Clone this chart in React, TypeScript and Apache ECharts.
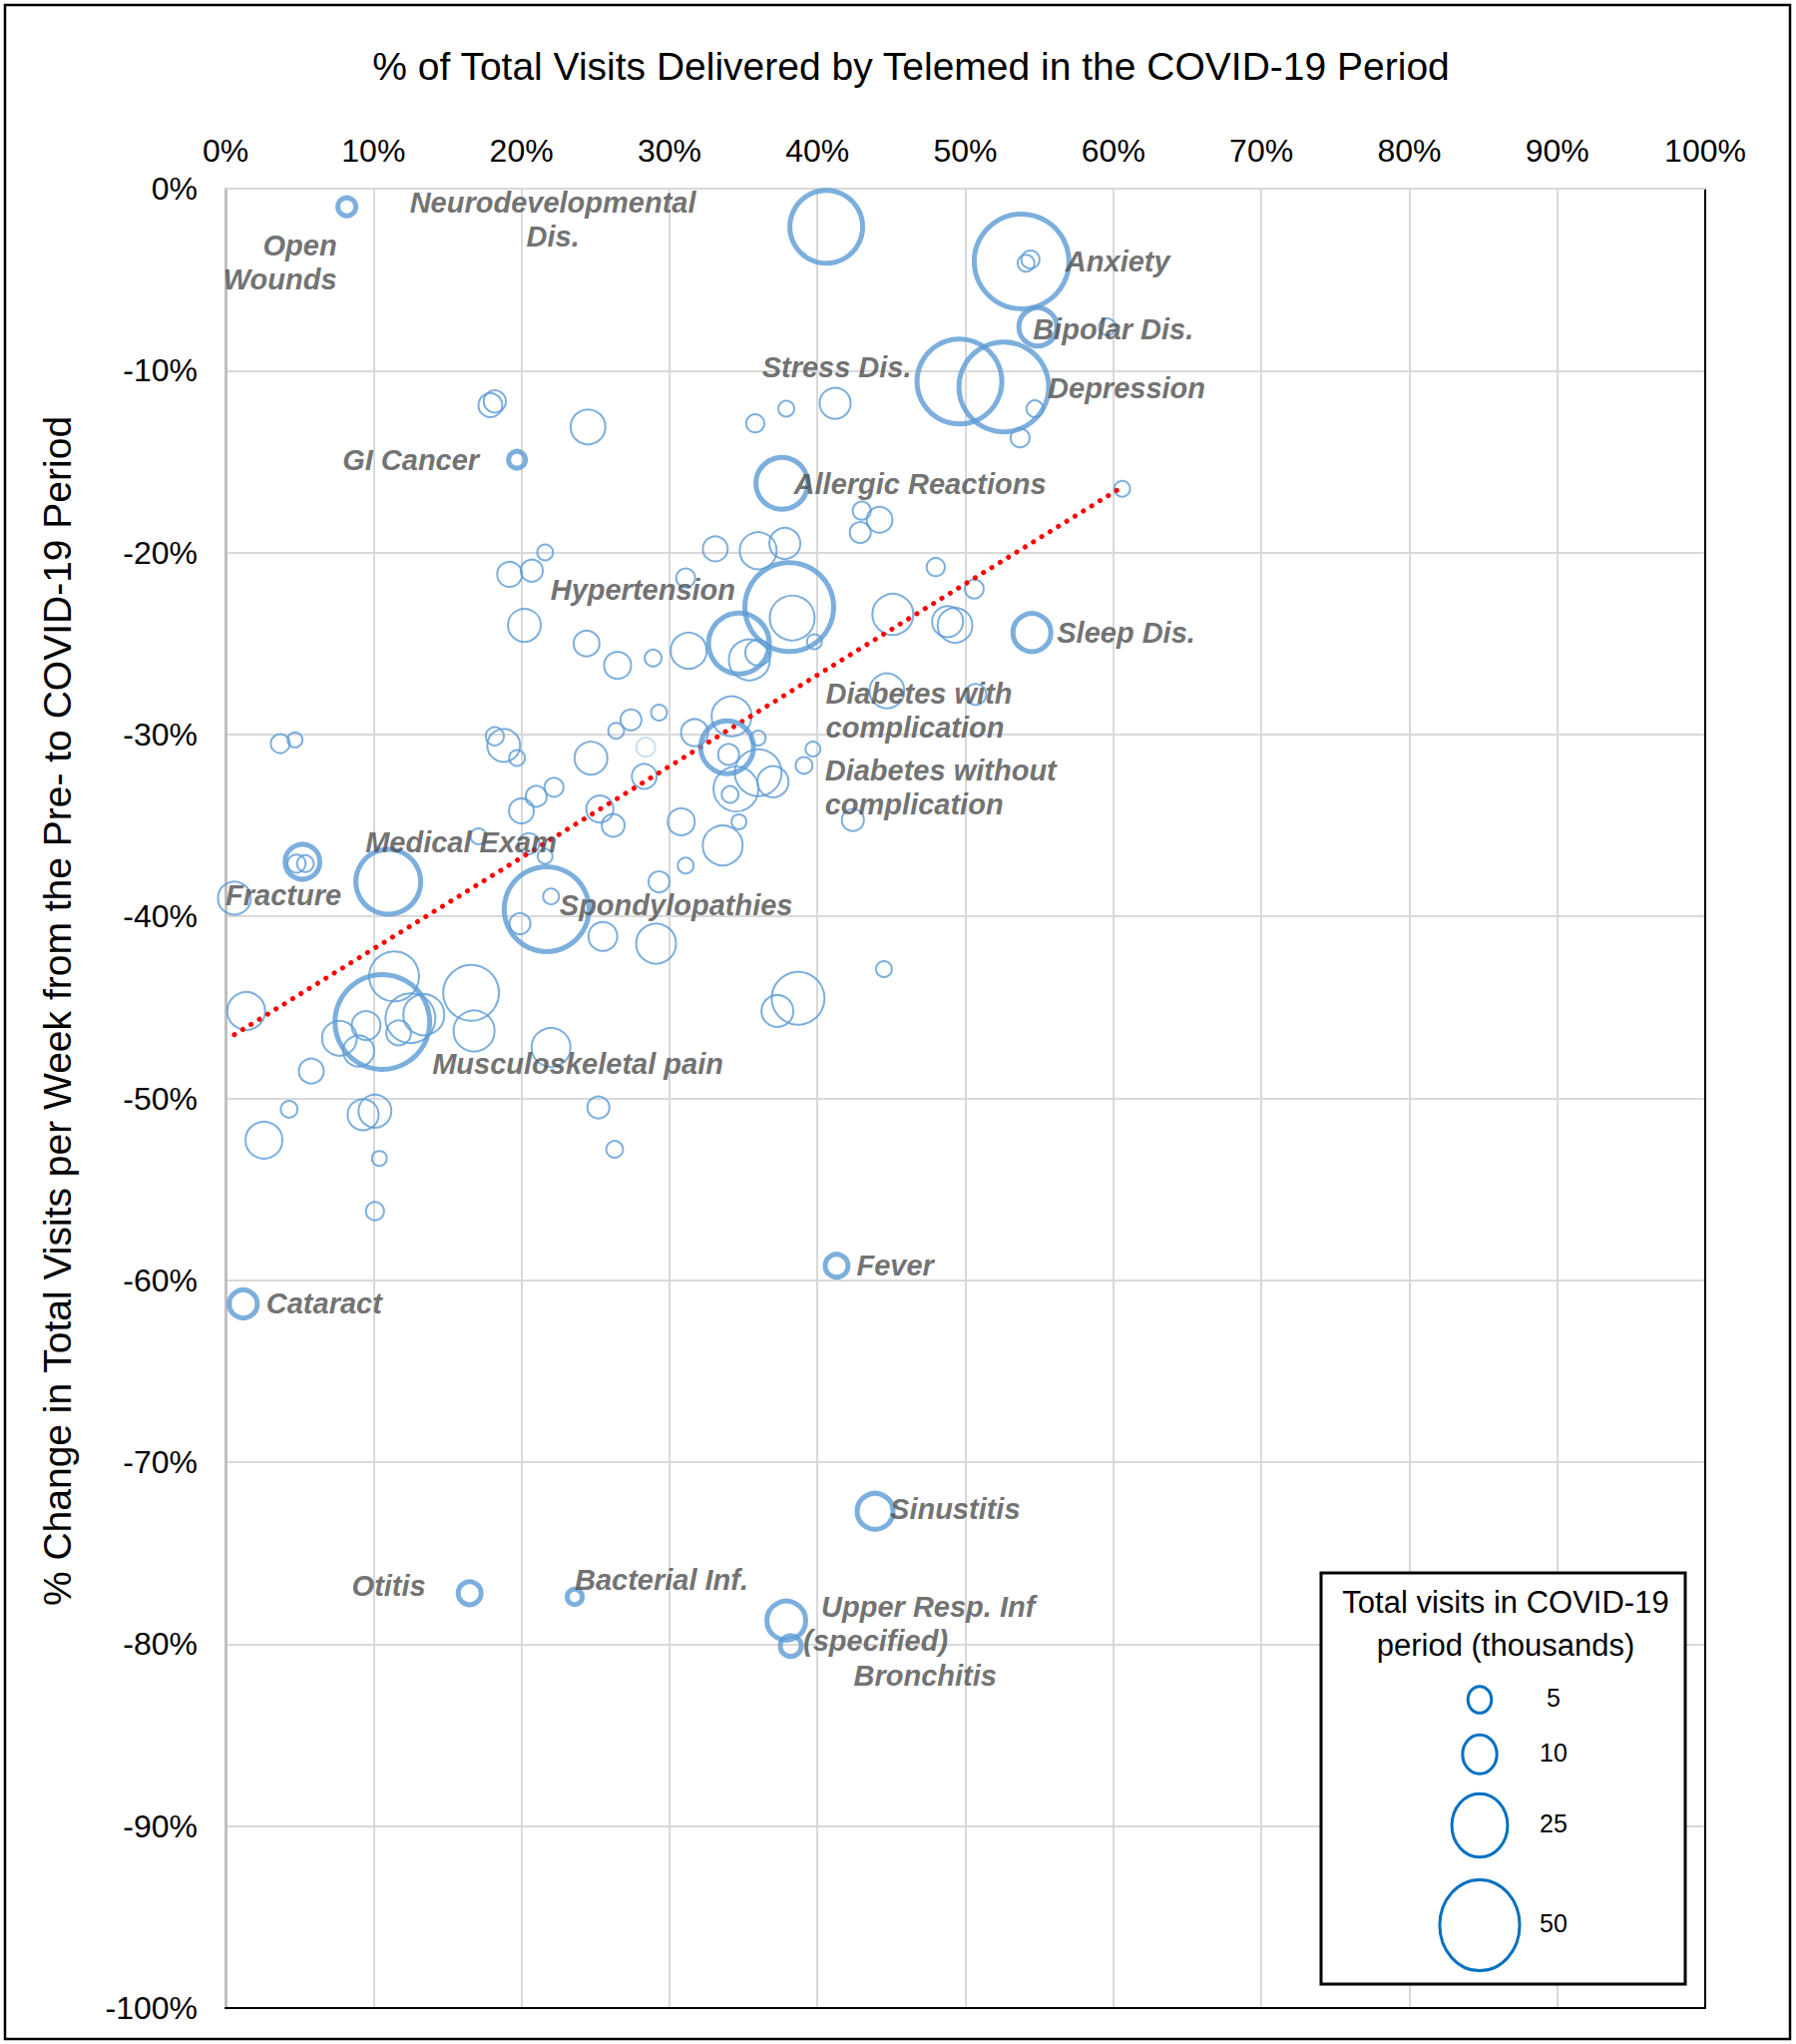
import React, { useEffect, useRef } from "react";
import * as echarts from "echarts";

// ---------- DATA ----------
// Unlabeled conditions: % of visits by telemed, % change in weekly visits, total visits (thousands)
const OTHER_X = [3.7, 4.7, 18.2, 18.8, 19.7, 24.7, 26.4, 27.4, 29.3, 31.7, 28.3, 21.0, 22.2, 20.0, 25.3, 26.2, 30.8, 17.1, 20.5, 21.6, 31.1, 29.3, 4.8, 5.4, 0.6, 22.0, 19.9, 25.5, 29.1, 1.4, 11.4, 9.5, 7.7, 9.0, 12.5, 13.4, 11.7, 16.6, 16.8, 22.0, 5.8, 4.3, 2.6, 9.3, 10.1, 10.4, 10.1, 25.2, 26.3, 43.0, 44.2, 42.9, 33.1, 36.0, 37.8, 31.1, 38.3, 39.8, 35.4, 36.0, 31.3, 28.9, 26.5, 48.0, 50.6, 45.1, 48.8, 49.3, 44.7, 50.7, 34.2, 34.0, 36.0, 39.7, 39.1, 36.0, 37.0, 34.5, 34.1, 42.4, 34.7, 33.6, 44.5, 38.7, 37.3, 54.4, 54.1, 59.6, 54.7, 53.7, 41.2, 37.9, 35.8, 60.6, 17.9, 18.2, 24.5, 21.6, 20.7, 19.2, 20.2, 24.4];
const OTHER_Y = [-30.5, -30.3, -30.1, -30.6, -31.3, -31.3, -29.8, -29.2, -28.8, -29.9, -32.3, -33.4, -32.9, -34.2, -34.1, -35.0, -34.8, -35.6, -36.0, -36.7, -37.2, -38.1, -37.1, -37.1, -39.0, -38.9, -40.4, -41.1, -41.5, -45.2, -43.3, -46.0, -46.7, -47.4, -45.6, -45.4, -46.4, -44.2, -46.3, -47.2, -48.5, -50.6, -52.3, -50.9, -50.7, -53.3, -56.2, -50.5, -52.8, -17.7, -18.2, -18.9, -19.8, -19.9, -19.5, -21.4, -23.6, -24.9, -25.9, -25.5, -25.4, -25.8, -26.2, -20.8, -22.0, -23.4, -23.8, -24.0, -27.6, -27.8, -29.0, -31.1, -30.2, -30.8, -31.7, -32.1, -32.6, -33.0, -33.3, -34.7, -34.8, -36.1, -42.9, -44.5, -45.2, -3.9, -4.1, -7.6, -12.1, -13.7, -11.8, -12.1, -12.9, -16.5, -11.9, -11.7, -13.1, -20.0, -21.0, -21.2, -24.0, -25.0];
const OTHER_V = [2.5, 1.6, 2.3, 6.9, 1.8, 6.9, 1.8, 3.0, 1.8, 4.8, 4.1, 3.0, 2.5, 4.1, 4.8, 3.5, 4.8, 1.8, 3.0, 1.6, 1.8, 3.0, 2.3, 2.0, 6.9, 1.8, 3.0, 5.4, 10.0, 9.0, 15.3, 5.4, 7.7, 6.2, 15.3, 10.5, 4.1, 19.0, 10.5, 9.5, 4.1, 2.0, 8.6, 6.2, 6.9, 1.6, 2.3, 3.3, 2.0, 2.3, 4.4, 3.0, 4.1, 8.6, 6.2, 2.5, 12.5, 1.6, 10.5, 4.4, 8.2, 2.0, 4.8, 2.3, 2.5, 10.5, 6.2, 7.7, 7.7, 3.0, 10.0, 3.0, 1.6, 1.6, 2.0, 13.6, 6.2, 12.5, 2.0, 3.3, 1.6, 10.0, 1.8, 17.1, 6.5, 2.3, 2.0, 2.0, 2.0, 2.5, 6.2, 1.8, 2.3, 1.8, 3.8, 3.3, 7.7, 1.8, 3.3, 4.1, 6.9, 4.4];

// One faded bubble
const FAINT_X = [28.4];
const FAINT_Y = [-30.7];
const FAINT_V = [2.5];

// Labeled conditions
const LABELED_NAMES = ["Neurodevelopmental Dis.", "Open Wounds", "Anxiety", "Bipolar Dis.", "Stress Dis.", "Depression", "GI Cancer", "Allergic Reactions", "Hypertension", "Sleep Dis.", "Diabetes with complication", "Diabetes without complication", "Medical Exam", "Fracture", "Spondylopathies", "Musculoskeletal pain", "Fever", "Cataract", "Sinustitis", "Otitis", "Bacterial Inf.", "Upper Resp. Inf (specified)", "Bronchitis"];
const LABELED_X = [40.6, 8.2, 53.8, 54.9, 49.6, 52.6, 19.7, 37.6, 38.1, 54.5, 34.7, 33.9, 11.0, 5.2, 21.7, 10.6, 41.3, 1.2, 43.9, 16.5, 23.6, 37.9, 38.2];
const LABELED_Y = [-2.1, -1.0, -4.0, -7.6, -10.6, -10.9, -14.9, -16.2, -23.0, -24.4, -25.0, -30.7, -38.1, -37.0, -39.6, -45.8, -59.2, -61.3, -72.7, -77.2, -77.4, -78.7, -80.1];
const LABELED_V = [34.4, 3.0, 56.5, 10.5, 45.8, 51.0, 2.7, 18.4, 50.0, 10.5, 24.6, 19.0, 27.7, 9.0, 45.8, 56.5, 4.4, 6.2, 9.5, 4.4, 2.3, 10.9, 3.8];

// Linear trend line end points
const TREND_X = [0.6, 60.6];
const TREND_Y = [-46.5, -16.4];

// Bubble size legend (thousands)
const LEGEND_SIZES = [5, 10, 25, 50];

// ---------- STYLE / LAYOUT ----------
const FONT = "'Liberation Sans', Arial, Helvetica, sans-serif";
const BUBBLE_BLUE = "#5B9BD5";
const SIZE_K = 13.3; // px of outer diameter per sqrt(thousand visits)
const outerDiameter = (v: number) => SIZE_K * Math.sqrt(v);

const LABEL_LAYOUT: Record<string, { align: string; dx: number; dy: number; text?: string }> = {
  "Neurodevelopmental Dis.": { align: "center", dx: -274, dy: -7, text: "Neurodevelopmental\nDis." },
  "Open Wounds": { align: "right", dx: -10, dy: 56, text: "Open\nWounds" },
  Anxiety: { align: "left", dx: 44, dy: 0 },
  "Bipolar Dis.": { align: "left", dx: -5, dy: 2 },
  "Stress Dis.": { align: "right", dx: -48, dy: -14 },
  Depression: { align: "left", dx: 44, dy: 1 },
  "GI Cancer": { align: "right", dx: -38, dy: 0 },
  "Allergic Reactions": { align: "left", dx: 12, dy: 1 },
  Hypertension: { align: "right", dx: -54, dy: -17 },
  "Sleep Dis.": { align: "left", dx: 25, dy: 0 },
  "Diabetes with complication": { align: "left", dx: 87, dy: 67, text: "Diabetes with\ncomplication" },
  "Diabetes without complication": { align: "left", dx: 98, dy: 40, text: "Diabetes without\ncomplication" },
  "Medical Exam": { align: "left", dx: -23, dy: -40 },
  Fracture: { align: "left", dx: -77, dy: 33 },
  Spondylopathies: { align: "left", dx: 13, dy: -4 },
  "Musculoskeletal pain": { align: "left", dx: 50, dy: 42 },
  Fever: { align: "left", dx: 20, dy: 0 },
  Cataract: { align: "left", dx: 23, dy: 0 },
  Sinustitis: { align: "left", dx: 15, dy: -2 },
  Otitis: { align: "right", dx: -44, dy: -7 },
  "Bacterial Inf.": { align: "left", dx: 0, dy: -17 },
  "Upper Resp. Inf (specified)": { align: "left", dx: 17, dy: 3, text: "{a|Upper Resp. Inf}\n{b|(specified)}" },
  Bronchitis: { align: "left", dx: 63, dy: 30 },
};

const LEGEND_LAYOUT = { cx: 1483, textX: 1557, rows: [1703, 1757.7, 1829, 1929], squeeze: 0.88 };

export default function App() {
  const ref = useRef<HTMLDivElement>(null);

  useEffect(() => {
    document.body.style.margin = "0";
    if (!ref.current) return;
    const chart = echarts.init(ref.current, undefined, { renderer: "svg" });

    const otherData = OTHER_X.map((x, i) => [x, OTHER_Y[i], OTHER_V[i]]);
    const faintData = FAINT_X.map((x, i) => [x, FAINT_Y[i], FAINT_V[i]]);
    const labelFont = {
      fontFamily: FONT,
      fontWeight: "bold" as const,
      fontStyle: "italic" as const,
      fontSize: 29,
      color: "#4D4D4D",
      lineHeight: 34,
    };
    const labeledData = LABELED_NAMES.map((name, i) => {
      const l = LABEL_LAYOUT[name];
      return {
        name,
        value: [LABELED_X[i], LABELED_Y[i], LABELED_V[i]],
        label: {
          align: l.align,
          offset: [l.dx, l.dy],
          formatter: l.text ?? name,
        },
      };
    });

    const legendGraphics: any[] = [
      {
        type: "rect",
        z: 100,
        shape: { x: 1324, y: 1576, width: 365, height: 412 },
        style: { fill: "#fff", stroke: "#000", lineWidth: 3 },
      },
      {
        type: "text",
        z: 101,
        x: 1509,
        y: 1605,
        style: { text: "Total visits in COVID-19", fontFamily: FONT, fontSize: 31, fill: "#000", align: "center", verticalAlign: "middle" },
      },
      {
        type: "text",
        z: 101,
        x: 1509,
        y: 1648,
        style: { text: "period (thousands)", fontFamily: FONT, fontSize: 31, fill: "#000", align: "center", verticalAlign: "middle" },
      },
    ];
    LEGEND_SIZES.forEach((v, i) => {
      const h = outerDiameter(v) - 3;
      legendGraphics.push({
        type: "ellipse",
        z: 101,
        shape: { cx: LEGEND_LAYOUT.cx, cy: LEGEND_LAYOUT.rows[i], rx: (h * LEGEND_LAYOUT.squeeze) / 2, ry: h / 2 },
        style: { fill: "none", stroke: "#0070C0", lineWidth: 3 },
      });
      legendGraphics.push({
        type: "text",
        z: 101,
        x: LEGEND_LAYOUT.textX,
        y: LEGEND_LAYOUT.rows[i] - 2,
        style: { text: String(v), fontFamily: FONT, fontSize: 25, fill: "#000", align: "center", verticalAlign: "middle" },
      });
    });

    const hiddenAxisCommon = {
      type: "value" as const,
      axisLabel: { show: false },
      axisTick: { show: false },
      splitLine: { show: false },
    };

    chart.setOption({
      animation: false,
      backgroundColor: "#fff",
      grid: { left: 226, top: 189, width: 1483, height: 1823, containLabel: false },
      xAxis: [
        {
          type: "value",
          position: "top",
          min: 0,
          max: 100,
          interval: 10,
          axisLine: { show: true, onZero: false, lineStyle: { color: "#D9D9D9", width: 2 } },
          axisTick: { show: false },
          axisLabel: { formatter: (v: number) => `${v}%`, fontFamily: FONT, fontSize: 32, color: "#000", margin: 22 },
          splitLine: { show: true, lineStyle: { color: "#D9D9D9", width: 2 } },
        },
        {
          ...hiddenAxisCommon,
          position: "bottom",
          min: 0,
          max: 100,
          axisLine: { show: true, onZero: false, lineStyle: { color: "#000", width: 2 } },
        },
      ],
      yAxis: [
        {
          type: "value",
          position: "left",
          min: -100,
          max: 0,
          interval: 10,
          axisLine: { show: true, onZero: false, lineStyle: { color: "#BFBFBF", width: 3 } },
          axisTick: { show: false },
          axisLabel: { formatter: (v: number) => `${v}%`, fontFamily: FONT, fontSize: 32, color: "#000", margin: 28 },
          splitLine: { show: true, lineStyle: { color: "#D9D9D9", width: 2 } },
        },
        {
          ...hiddenAxisCommon,
          position: "right",
          min: -100,
          max: 0,
          axisLine: { show: true, onZero: false, lineStyle: { color: "#000", width: 2 } },
        },
      ],
      series: [
        {
          type: "scatter",
          name: "Other conditions",
          data: otherData,
          symbol: "circle",
          symbolSize: (val: number[]) => outerDiameter(val[2]) - 2,
          itemStyle: { color: "rgba(0,0,0,0)", borderColor: BUBBLE_BLUE, borderWidth: 2 },
          emphasis: { disabled: true },
          z: 2,
        },
        {
          type: "scatter",
          name: "Faint",
          data: faintData,
          symbol: "circle",
          symbolSize: (val: number[]) => outerDiameter(val[2]) - 2,
          itemStyle: { color: "rgba(0,0,0,0)", borderColor: "#BDD7EE", borderWidth: 2 },
          emphasis: { disabled: true },
          z: 2,
        },
        {
          type: "line",
          name: "Trend",
          data: TREND_X.map((x, i) => [x, TREND_Y[i]]),
          showSymbol: false,
          symbol: "none",
          lineStyle: { color: "#FF0000", width: 5, type: [0.1, 9.7], cap: "round" },
          emphasis: { disabled: true },
          z: 3,
        },
        {
          type: "scatter",
          name: "Labeled conditions",
          data: labeledData,
          symbol: "circle",
          symbolSize: (val: number[]) => outerDiameter(val[2]) - 5,
          itemStyle: { color: "rgba(0,0,0,0)", borderColor: BUBBLE_BLUE, borderWidth: 5 },
          label: {
            show: true,
            position: "inside",
            verticalAlign: "middle",
            ...labelFont,
            rich: {
              a: { ...labelFont, padding: [0, 0, 0, 18] },
              b: { ...labelFont },
            },
          },
          emphasis: { disabled: true },
          z: 4,
        },
      ],
      graphic: [
        {
          type: "rect",
          z: 100,
          shape: { x: 5, y: 5, width: 1789, height: 2038 },
          style: { fill: "none", stroke: "#000", lineWidth: 2.5 },
        },
        {
          type: "text",
          z: 100,
          x: 913,
          y: 66,
          style: {
            text: "% of Total Visits Delivered by Telemed in the COVID-19 Period",
            fontFamily: FONT,
            fontSize: 39,
            fill: "#000",
            align: "center",
            verticalAlign: "middle",
          },
        },
        {
          type: "text",
          z: 100,
          x: 57,
          y: 1013,
          rotation: Math.PI / 2,
          style: {
            text: "% Change in Total Visits per Week from the Pre- to COVID-19 Period",
            fontFamily: FONT,
            fontSize: 39,
            fill: "#000",
            align: "center",
            verticalAlign: "middle",
          },
        },
        ...legendGraphics,
      ],
    });

    return () => chart.dispose();
  }, []);

  return <div ref={ref} style={{ width: 1800, height: 2048 }} />;
}
